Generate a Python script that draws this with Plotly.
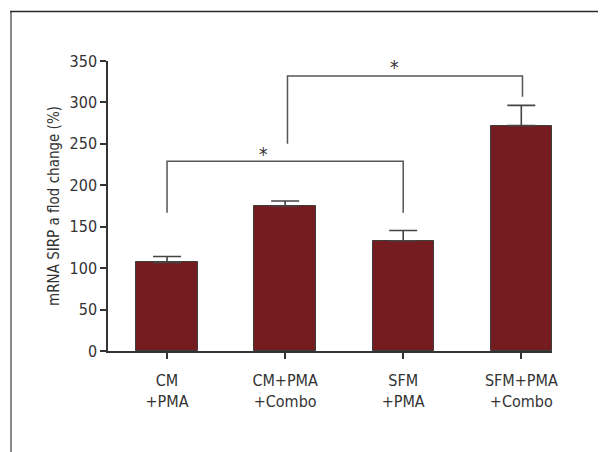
import plotly.graph_objects as go

categories = ["CM<br>+PMA", "CM+PMA<br>+Combo", "SFM<br>+PMA", "SFM+PMA<br>+Combo"]
values = [107, 175, 133, 272]
errors = [7, 6, 12.5, 24.5]
y_ticks = [0, 50, 100, 150, 200, 250, 300, 350]

# significance brackets: (x_left, x_right, y_top, left_leg_bottom, right_leg_bottom)
brackets = [(0, 2, 229, 167, 167), (1.02, 3.01, 332, 250, 307)]
stars = [(0.82, 240), (1.93, 345)]

FONT = "DejaVu Sans Condensed, DejaVu Sans, sans-serif"
OFF = 8  # page body margin
W, H = 606 - OFF, 452 - OFF
ML, MT = 108 - OFF, 61 - OFF
PW, PH = 444, 290
MR, MB = W - ML - PW, H - MT - PH

x_idx = list(range(len(categories)))

fig = go.Figure()
fig.add_trace(go.Bar(
    x=x_idx, y=values, width=0.52,
    marker=dict(color="#751c20", line=dict(color="#3c3c3c", width=1)),
    error_y=dict(type="data", symmetric=False, array=errors,
                 arrayminus=[0] * len(errors), color="#444444",
                 thickness=1.6, width=14),
))

shapes = []
for xl, xr, yt, yl, yr in brackets:
    shapes.append(dict(type="path", xref="x", yref="y",
                       path=f"M {xl},{yl} L {xl},{yt} L {xr},{yt} L {xr},{yr}",
                       line=dict(color="#555555", width=1.5)))

def px_to_paper_x(px):
    return (px - OFF - ML) / PW
def px_to_paper_y(py):
    return (H - MB - (py - OFF)) / PH

# outer frame (left and top edges)
shapes.append(dict(type="line", xref="paper", yref="paper",
                   x0=px_to_paper_x(11), x1=px_to_paper_x(11),
                   y0=px_to_paper_y(11.5), y1=px_to_paper_y(470),
                   line=dict(color="#8a8a8a", width=2)))
shapes.append(dict(type="line", xref="paper", yref="paper",
                   x0=px_to_paper_x(10), x1=px_to_paper_x(620),
                   y0=px_to_paper_y(11.5), y1=px_to_paper_y(11.5),
                   line=dict(color="#2a2a2a", width=1.5)))

annotations = [dict(x=sx, y=sy, xref="x", yref="y", text="*", showarrow=False,
                    font=dict(family=FONT, size=19, color="#333333"),
                    yanchor="middle", xanchor="center", yshift=-2)
               for sx, sy in stars]

fig.update_layout(
    width=W, height=H,
    margin=dict(l=ML, r=MR, t=MT, b=MB, pad=0),
    paper_bgcolor="white", plot_bgcolor="white",
    showlegend=False, bargap=0,
    shapes=shapes, annotations=annotations,
    font=dict(family=FONT, size=16, color="#333333"),
)
fig.update_xaxes(
    range=[-0.5, 3.26], tickmode="array", tickvals=x_idx, ticktext=categories,
    showline=True, linecolor="#333333", linewidth=1.5,
    ticks="outside", ticklen=6, tickwidth=1.5, tickcolor="#333333",
    ticklabelstandoff=8,
    showgrid=False, zeroline=False,
    tickfont=dict(family=FONT, size=16, color="#333333"),
)
fig.update_yaxes(
    range=[0, 350], tickmode="array", tickvals=y_ticks,
    showline=True, linecolor="#333333", linewidth=1.5,
    ticks="outside", ticklen=6, tickwidth=1.5, tickcolor="#333333",
    showgrid=False, zeroline=False,
    tickfont=dict(family=FONT, size=16, color="#333333"),
    title=dict(text="mRNA SIRP a flod change (%)", standoff=6,
               font=dict(family=FONT, size=15, color="#333333")),
)

fig.write_html("out.html")
